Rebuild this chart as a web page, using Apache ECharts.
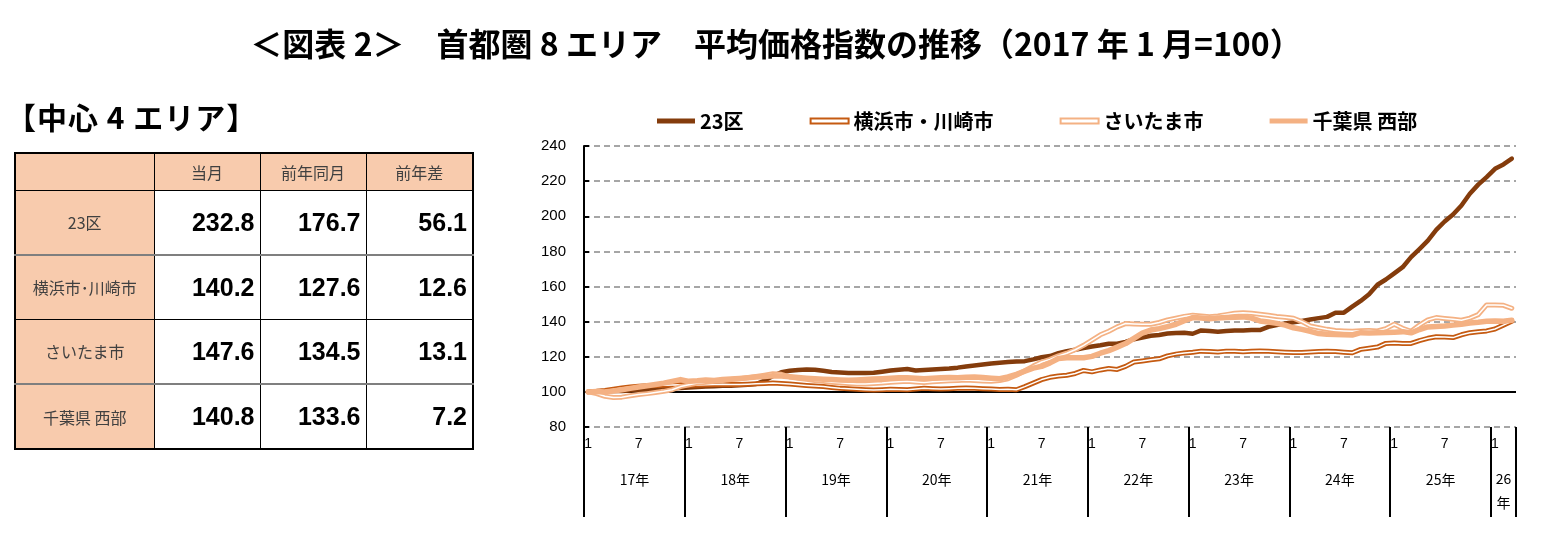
<!DOCTYPE html>
<html>
<head>
<meta charset="utf-8">
<title>首都圏8エリア 平均価格指数の推移</title>
<script src="https://cdn.jsdelivr.net/npm/echarts@6/dist/echarts.min.js"></script>
<style>
html, body { margin: 0; padding: 0; background: #fff; }
#chart { position: absolute; left: 0; top: 0; width: 1552px; height: 541px; }
#heading {
    position: absolute; left: 6px; top: 101px; line-height: 30px;
    font-family: 'Noto Sans CJK JP'; font-weight: bold; font-size: 30px; color: #000;
    letter-spacing: 1px; white-space: nowrap;
}
#tbl {
    position: absolute; left: 14px; top: 152px; width: 458px; height: 296px;
    border-collapse: collapse; border: 2px solid #000; table-layout: fixed;
}
#tbl td { border: 1px solid #000; padding: 0; }
#tbl tr.gap td { border-top: 2px solid #7f7f7f; }
#tbl td.lab {
    background: #f8cbad; text-align: center; color: #404040;
    font-family: 'Noto Sans CJK JP'; font-size: 16px;
}
#tbl td.num {
    text-align: right; padding-right: 5px; color: #000;
    font-family: 'Liberation Sans'; font-weight: bold; font-size: 25px;
}
</style>
</head>
<body>
<div id="chart"></div>
<div id="heading">【中心 4 エリア】</div>
<table id="tbl"></table>
<script>
// 表（中心4エリア）
var tableHead = ['', '当月', '前年同月', '前年差'];
var tableAreas = ['23区', '横浜市･川崎市', 'さいたま市', '千葉県 西部'];
var tableCur = ['232.8', '140.2', '147.6', '140.8'];
var tablePrev = ['176.7', '127.6', '134.5', '133.6'];
var tableDiff = ['56.1', '12.6', '13.1', '7.2'];

// 月次の指数（2017年1月=100、2017/1〜2026/3）
var ku23 = [
    100, 100.2, 100.3, 100.5, 100.5, 100.8, 101, 101.2, 101.5, 101.8, 102, 102.2,
    102.5, 102.8, 103, 103.2, 103.5, 103.5, 103.8, 104, 104.5, 106.5, 109, 111.2,
    112, 112.5, 112.8, 112.6, 112, 111.3, 111, 110.8, 110.7, 110.8, 110.9, 111.5,
    112.2, 112.6, 113, 112.2, 112.5, 112.8, 113, 113.3, 113.8, 114.5, 115, 115.6,
    116.2, 116.6, 117, 117.3, 117.5, 118.5, 119.7, 120.4, 122, 123.2, 124, 125,
    125.8, 126.5, 127.4, 127.4, 128.5, 130, 131, 132, 132.4, 133.2, 133.5, 133.7,
    133.1, 135, 134.6, 134.3, 134.7, 135, 135, 135.2, 135.2, 137, 138, 138.9,
    139.6, 140.4, 141.2, 142, 142.7, 145.1, 145.1, 148.5, 151.8, 155.6, 161, 164,
    167.5, 171, 176.7, 181.3, 186.1, 192.2, 197, 201, 206.1, 212.8, 218, 222.3,
    227, 229.5, 232.8
];
var yokohama = [
    100, 100.3, 100.8, 101.5, 102.2, 102.8, 103.2, 103.5, 103.6, 103.8, 103.9, 104,
    103.8, 103.9, 104, 104.2, 104.3, 104.2, 104.2, 104.4, 104.6, 104.8, 105, 104.8,
    104.5, 104, 103.6, 103.3, 103, 102.5, 102, 101.8, 101.5, 101.2, 101, 101.2,
    101.5, 101.3, 101.2, 101.6, 102, 101.8, 101.6, 101.8, 102, 102.2, 102, 101.8,
    101.6, 101.3, 101.5, 101.2, 103, 105, 107, 108.3, 109, 109.5, 110.5, 112.2,
    111.4, 112.5, 113.3, 112.8, 114.5, 117, 117.6, 118.3, 118.8, 120.5, 121.5, 122.2,
    122.6, 123.2, 123, 122.7, 123.2, 123.1, 122.9, 123.2, 123.3, 123.1, 122.8, 122.6,
    122.4, 122.4, 122.7, 123, 123.2, 123, 122.6, 122.3, 124.2, 124.8, 125.5, 127.6,
    127.8, 127.6, 127.6, 129.2, 130.5, 131.4, 131.2, 130.9, 132.5, 133.7, 134.2, 134.7,
    135.8, 138, 140.2
];
var saitama = [
    100, 99, 97.5, 96.8, 97, 97.8, 98.5, 99, 99.6, 100.3, 101.2, 103,
    104, 105, 105.5, 106, 106.5, 107, 107.5, 108, 108.8, 109.5, 110.3, 110,
    108.5, 107.8, 107.2, 106.5, 106, 105.5, 105.2, 104.8, 104.5, 104.5, 104.8, 105,
    105.5, 105.8, 106, 105.6, 105.3, 105.7, 106, 106.3, 106.5, 106.8, 106.5, 106.2,
    106, 106.5, 107.5, 109.5, 112, 114.7, 117, 118.5, 120.5, 122, 124, 126.5,
    129.5, 132.5, 134.5, 137, 138.9, 138.7, 138.5, 138.5, 139.5, 141, 142, 143,
    143.6, 143.2, 142.8, 143.2, 144, 144.8, 145.1, 144.8, 144.2, 143.6, 142.9, 142.5,
    141.9, 140, 137.5, 136.5, 135.6, 135, 134.7, 134.5, 134.8, 135, 134.7, 136,
    138.5, 136.2, 134.5, 138, 141, 142.3, 141.8, 141.3, 140.8, 142, 144, 149.5,
    149.5, 149.3, 147.6
];
var chibaWest = [
    100, 100.2, 100, 100.5, 101.2, 102, 102.8, 103.5, 104.2, 105, 106, 107,
    106, 106.3, 106.8, 106.5, 107, 107.3, 107.6, 108, 108.5, 108.8, 109.2, 109,
    108.6, 108.2, 107.8, 107.5, 107.2, 107, 106.8, 106.6, 106.8, 107, 107.3, 107.5,
    107.8, 108, 108, 107.8, 107.5, 107.8, 108, 108.2, 108, 108.3, 108.5, 108.2,
    107.8, 107.5, 108.5, 110, 111.8, 113.5, 114.5, 116.5, 119, 119.4, 119.4, 119.4,
    120.2, 122, 123.5, 125.5, 127.5, 130.5, 133.5, 135.2, 136, 137.2, 138.5, 140.5,
    142.3, 142, 141.7, 142, 142.3, 142.5, 142.7, 142, 140.4, 139.8, 139, 138,
    136.5, 135.6, 134.5, 133.2, 132.8, 132.6, 132.5, 132.4, 133.7, 133.5, 133.7, 133.8,
    134, 134.3, 133.6, 135.5, 137, 137.2, 137.5, 138, 138.5, 139.2, 139.6, 140.2,
    140.4, 140.2, 140.8
];
var yearLabels = ['17年', '18年', '19年', '20年', '21年', '22年', '23年', '24年', '25年', '26年'];
var yTicks = [80, 240, 20];

// 表を組み立てる
var html = '<colgroup><col style="width:139px"><col style="width:106px"><col style="width:106px"><col style="width:107px"></colgroup>';
html += '<tr style="height:37px">' + tableHead.map(function (h) { return '<td class="lab">' + h + '</td>'; }).join('') + '</tr>';
for (var r = 0; r < tableAreas.length; r++) {
    html += '<tr style="height:' + (r === 1 ? 64 : 65) + 'px"' + (r % 2 === 1 ? ' class="gap"' : '') + '>' +
        '<td class="lab">' + tableAreas[r] + '</td>' +
        '<td class="num">' + tableCur[r] + '</td>' +
        '<td class="num">' + tablePrev[r] + '</td>' +
        '<td class="num">' + tableDiff[r] + '</td></tr>';
}
document.getElementById('tbl').innerHTML = html;

// 横軸のカテゴリ（年/月）
var months = [];
for (var y = 2017; months.length < ku23.length; y++) {
    for (var m = 1; m <= 12 && months.length < ku23.length; m++) {
        months.push(y + '/' + m);
    }
}

var myChart = echarts.init(document.getElementById('chart'));

function line(name, data, color, width) {
    return {
        name: name,
        type: 'line',
        data: data,
        symbol: 'none',
        silent: true,
        lineStyle: { color: color, width: width, cap: 'round', join: 'round' },
        itemStyle: { color: color }
    };
}

var s23 = line('23区', ku23, '#843c0c', 4.5);
s23.markLine = {
    silent: true,
    symbol: 'none',
    z: 1,
    label: { show: false },
    lineStyle: { color: '#000', width: 2, type: 'solid' },
    data: [{ yAxis: 100 }]
};

var option = {
    animation: false,
    title: {
        text: '＜図表 2＞　首都圏 8 エリア　平均価格指数の推移（2017 年 1 月=100）',
        left: 'center',
        top: 23,
        textStyle: { fontFamily: 'Noto Sans CJK JP', fontWeight: 'bold', fontSize: 32, color: '#000' }
    },
    legend: {
        left: 652,
        top: 106,
        itemWidth: 38,
        itemHeight: 5,
        itemGap: 66,
        textStyle: { fontFamily: 'Noto Sans CJK JP', fontWeight: 'bold', fontSize: 20, color: '#000' },
        data: [
            { name: '23区', icon: 'rect', itemStyle: { color: '#843c0c', borderWidth: 0 } },
            { name: '横浜市・川崎市', icon: 'rect', itemStyle: { color: '#fff', borderColor: '#c55a11', borderWidth: 2 } },
            { name: 'さいたま市', icon: 'rect', itemStyle: { color: '#fff', borderColor: '#f4b183', borderWidth: 2 } },
            { name: '千葉県 西部', icon: 'rect', itemStyle: { color: '#f4b183', borderWidth: 0 } }
        ]
    },
    grid: { left: 584, right: 36, top: 146, bottom: 114 },
    xAxis: [{
        type: 'category',
        data: months,
        boundaryGap: true,
        axisLine: { show: false },
        axisTick: {
            show: true,
            interval: function (i) { return i % 12 === 0; },
            length: 90,
            lineStyle: { color: '#000', width: 2 }
        },
        axisLabel: {
            interval: function (i) { return i % 6 === 0; },
            formatter: function (v) { return v.split('/')[1]; },
            margin: 10,
            fontFamily: 'Liberation Sans',
            fontSize: 14,
            color: '#000'
        },
        splitLine: { show: false }
    }, {
        type: 'category',
        data: months,
        boundaryGap: true,
        position: 'bottom',
        axisLine: { show: false },
        axisTick: { show: false },
        axisLabel: {
            interval: 0,
            margin: 40,
            formatter: function (v, i) {
                var yi = Math.floor(i / 12);
                if (yi < yearLabels.length - 1 && i % 12 === 6) return '{y|' + yearLabels[yi] + '}';
                if (yi === yearLabels.length - 1 && i % 12 === 1) {
                    return '{n|' + yearLabels[yi].slice(0, 2) + '}\n{n|' + yearLabels[yi].slice(2) + '}';
                }
                return '';
            },
            rich: {
                y: { fontFamily: 'Noto Sans CJK JP', fontSize: 14, color: '#000', lineHeight: 20, padding: [6, 8, 0, 0] },
                n: { fontFamily: 'Noto Sans CJK JP', fontSize: 14, color: '#000', lineHeight: 24 }
            }
        }
    }],
    yAxis: {
        type: 'value',
        min: yTicks[0],
        max: yTicks[1],
        interval: yTicks[2],
        axisLine: { show: true, lineStyle: { color: '#000', width: 2 } },
        axisTick: { show: true, inside: true, length: 5, lineStyle: { color: '#000', width: 2 } },
        axisLabel: { margin: 18, fontFamily: 'Liberation Sans', fontSize: 15, color: '#000' },
        splitLine: { show: true, lineStyle: { color: '#a6a6a6', width: 2, type: [6, 4] } }
    },
    series: [
        s23,
        line('横浜市・川崎市', yokohama, '#c55a11', 5),
        line('横浜市・川崎市', yokohama, '#fff', 1.5),
        line('さいたま市', saitama, '#f4b183', 5),
        line('さいたま市', saitama, '#fff', 1.5),
        line('千葉県 西部', chibaWest, '#f4b183', 5.5)
    ]
};

myChart.setOption(option);
</script>
</body>
</html>
